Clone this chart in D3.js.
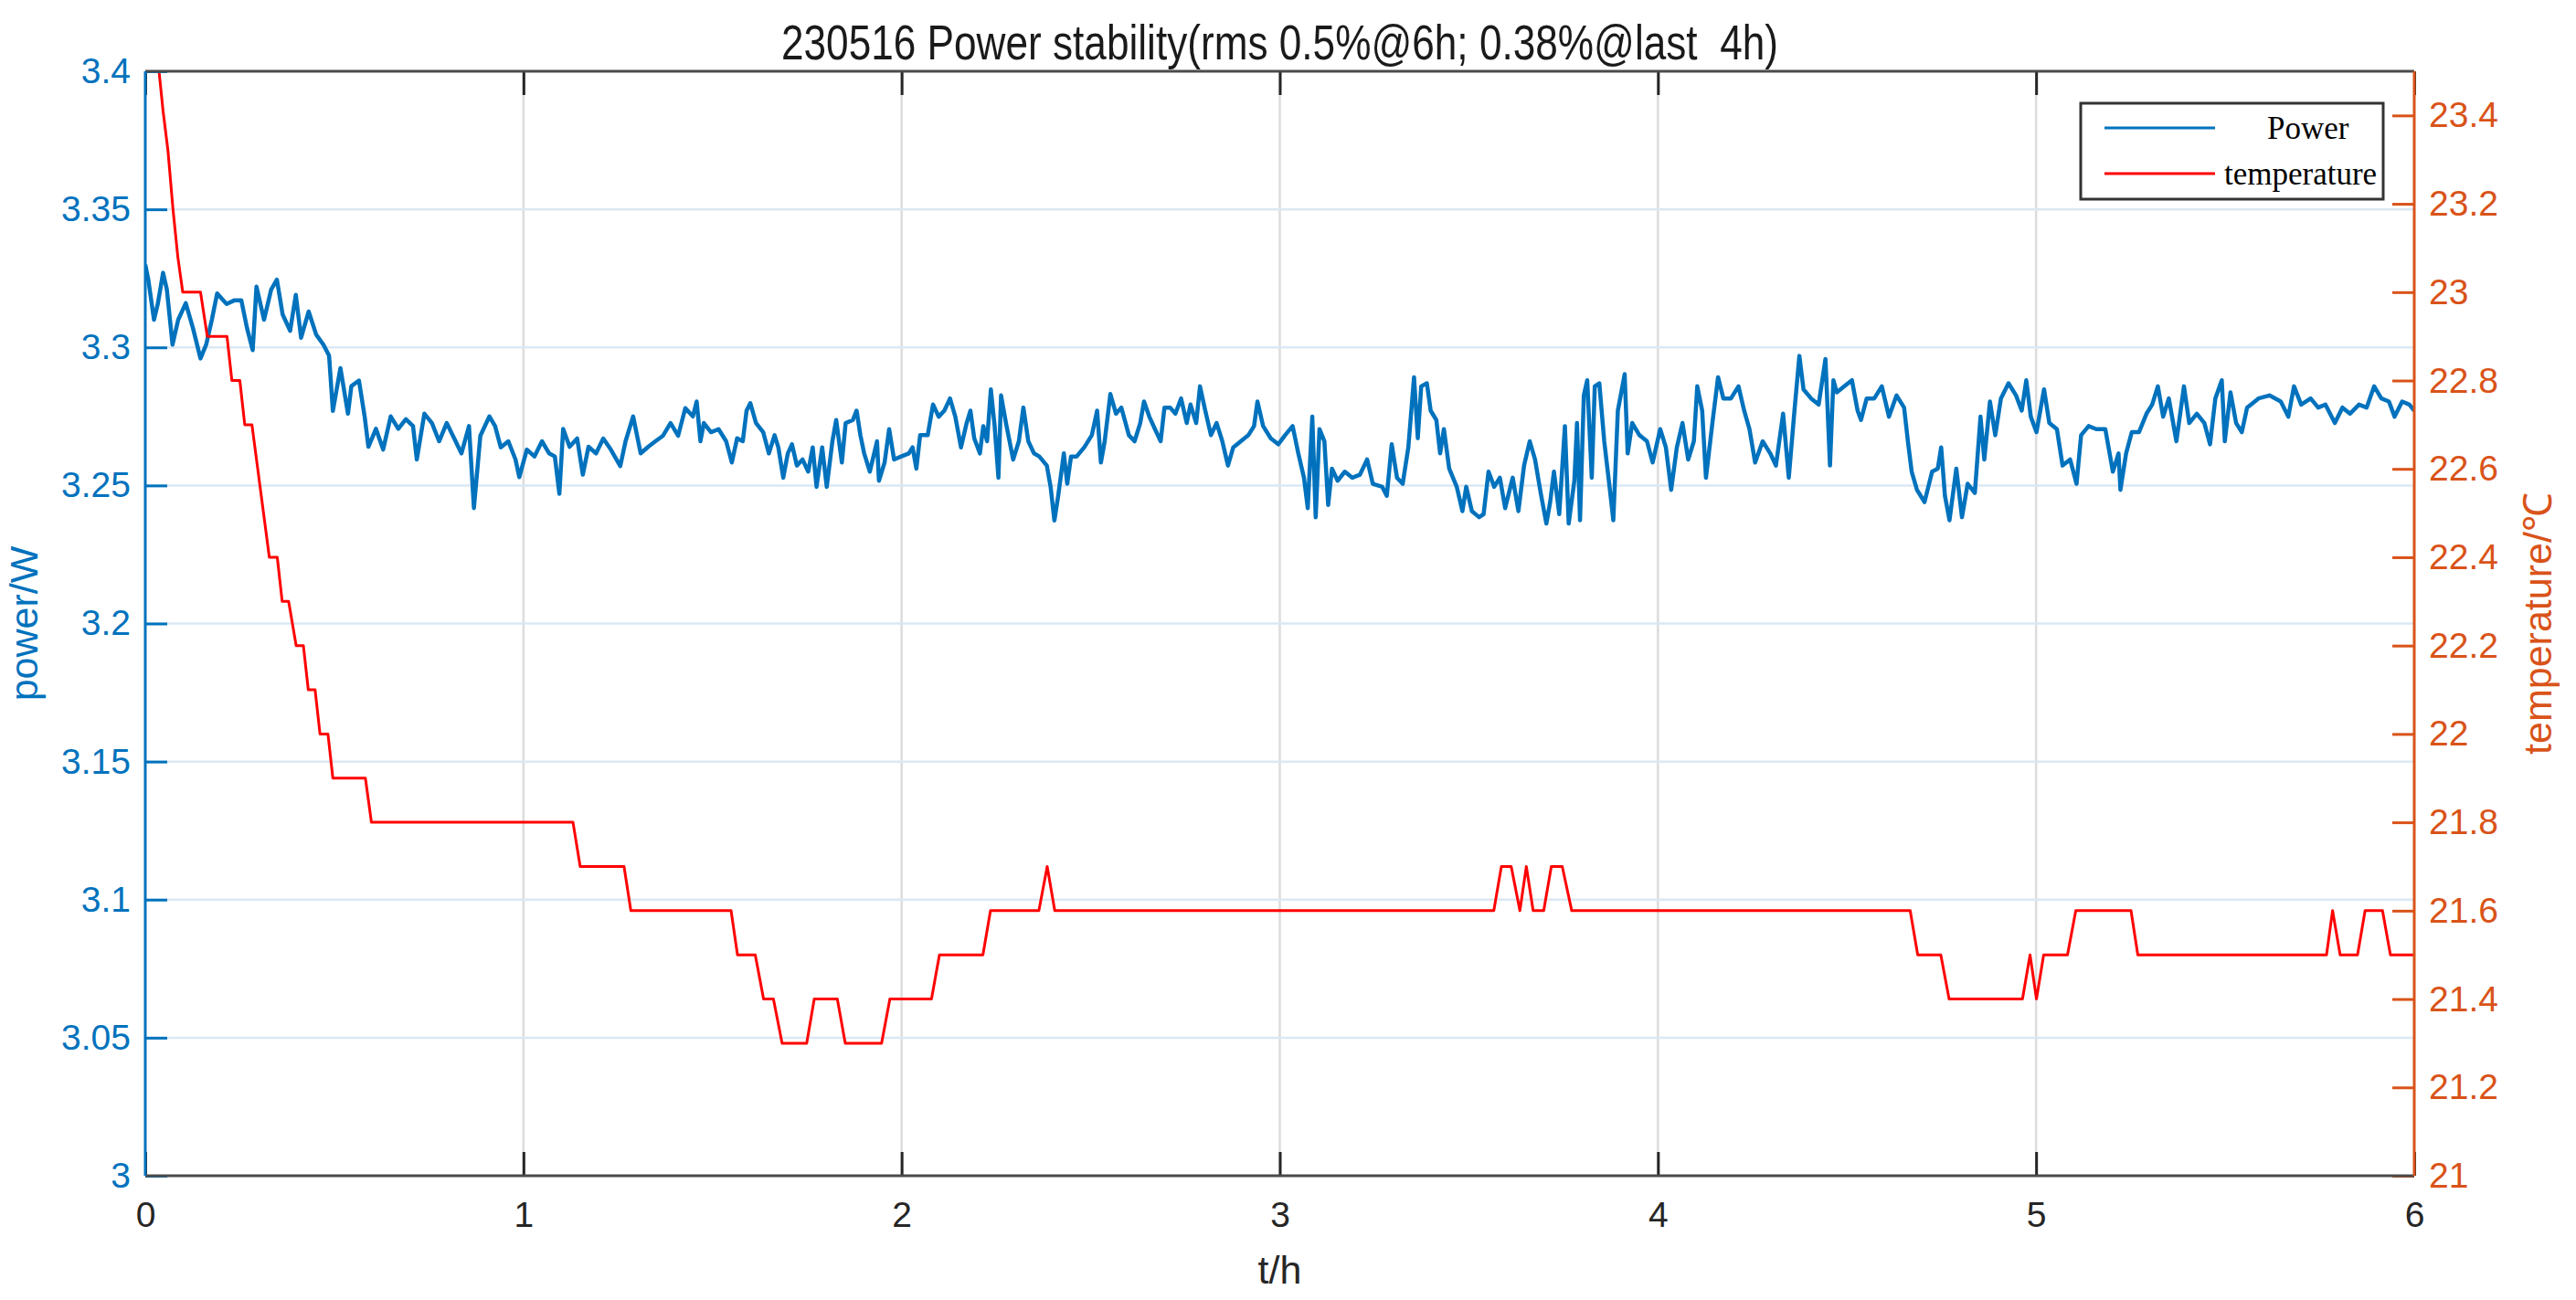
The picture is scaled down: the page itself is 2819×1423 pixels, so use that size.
<!DOCTYPE html>
<html>
<head>
<meta charset="utf-8">
<script src="https://cdn.jsdelivr.net/npm/d3@7"></script>
<style>
    html, body { margin: 0; padding: 0; background: #fff; }
    svg { display: block; }
</style>
</head>
<body>
<svg id="chart" width="2819" height="1423"></svg>
<script>

const title = '230516 Power stability(rms 0.5%@6h; 0.38%@last  4h)';

const hourTicks = [0, 1, 2, 3, 4, 5, 6];
const powerTicks = [3, 3.05, 3.1, 3.15, 3.2, 3.25, 3.3, 3.35, 3.4];
const tempTicks = [21, 21.2, 21.4, 21.6, 21.8, 22, 22.2, 22.4, 22.6, 22.8, 23, 23.2, 23.4];

const seriesNames = ['Power', 'temperature'];

// [hour, W]
const power = [
    [0, 3.330], [0.008, 3.3245], [0.023, 3.310], [0.033, 3.3157], [0.047, 3.327], [0.057, 3.321],
    [0.072, 3.301], [0.087, 3.310], [0.107, 3.316], [0.126, 3.307], [0.146, 3.296], [0.161, 3.301],
    [0.176, 3.310], [0.190, 3.3195], [0.215, 3.3157], [0.235, 3.317], [0.254, 3.317], [0.269, 3.307],
    [0.284, 3.299], [0.294, 3.322], [0.314, 3.310], [0.333, 3.321], [0.348, 3.3245], [0.363, 3.312],
    [0.383, 3.306], [0.398, 3.319], [0.412, 3.3035], [0.432, 3.313], [0.452, 3.3046], [0.471, 3.301],
    [0.486, 3.297], [0.496, 3.277], [0.516, 3.2925], [0.536, 3.276], [0.545, 3.286], [0.565, 3.288],
    [0.580, 3.275], [0.590, 3.264], [0.610, 3.2705], [0.629, 3.263], [0.649, 3.275], [0.669, 3.2705],
    [0.689, 3.274], [0.708, 3.2715], [0.718, 3.2594], [0.738, 3.276], [0.758, 3.2726], [0.777, 3.266],
    [0.797, 3.2726], [0.817, 3.267], [0.836, 3.2616], [0.856, 3.2715], [0.869, 3.2418], [0.886, 3.268],
    [0.910, 3.275], [0.925, 3.2715], [0.940, 3.2638], [0.960, 3.266], [0.979, 3.2594], [0.989, 3.253],
    [1.009, 3.263], [1.029, 3.2605], [1.049, 3.266], [1.068, 3.2616], [1.083, 3.2605], [1.095, 3.247],
    [1.105, 3.2705], [1.122, 3.264], [1.142, 3.267], [1.157, 3.2539], [1.172, 3.264], [1.192, 3.2616],
    [1.211, 3.267], [1.231, 3.263], [1.256, 3.257], [1.270, 3.266], [1.290, 3.275], [1.310, 3.2616],
    [1.330, 3.264], [1.349, 3.266], [1.369, 3.268], [1.389, 3.2726], [1.409, 3.268], [1.428, 3.278],
    [1.448, 3.275], [1.458, 3.2804], [1.468, 3.266], [1.477, 3.2726], [1.496, 3.2693], [1.516, 3.2704],
    [1.536, 3.266], [1.551, 3.2583], [1.565, 3.2671], [1.580, 3.266], [1.590, 3.2771], [1.600, 3.2798],
    [1.615, 3.2726], [1.634, 3.2693], [1.649, 3.2616], [1.664, 3.2682], [1.674, 3.2638], [1.687, 3.2528],
    [1.699, 3.2616], [1.710, 3.2649], [1.723, 3.2572], [1.738, 3.2594], [1.753, 3.255], [1.765, 3.2638],
    [1.775, 3.2495], [1.790, 3.2638], [1.802, 3.2495], [1.817, 3.266], [1.827, 3.2737], [1.842, 3.2583],
    [1.852, 3.2726], [1.871, 3.2737], [1.881, 3.2771], [1.891, 3.2682], [1.901, 3.2616], [1.916, 3.255],
    [1.935, 3.266], [1.940, 3.2517], [1.955, 3.2583], [1.967, 3.2704], [1.980, 3.2594], [1.999, 3.2605],
    [2.019, 3.2616], [2.029, 3.2638], [2.039, 3.2561], [2.049, 3.2682], [2.069, 3.2682], [2.083, 3.2793],
    [2.098, 3.2749], [2.113, 3.2771], [2.128, 3.2815], [2.142, 3.2749], [2.157, 3.2638], [2.172, 3.2726],
    [2.182, 3.2771], [2.192, 3.2671], [2.207, 3.2616], [2.216, 3.2715], [2.226, 3.266], [2.236, 3.2848],
    [2.246, 3.2715], [2.256, 3.2528], [2.263, 3.2826], [2.276, 3.2726], [2.295, 3.2594], [2.310, 3.266],
    [2.322, 3.2782], [2.335, 3.266], [2.350, 3.2616], [2.364, 3.2605], [2.384, 3.2572], [2.394, 3.2495],
    [2.404, 3.2373], [2.414, 3.2462], [2.429, 3.2616], [2.438, 3.2506], [2.448, 3.2605], [2.463, 3.2605],
    [2.483, 3.2638], [2.503, 3.2682], [2.517, 3.2771], [2.527, 3.2583], [2.537, 3.266], [2.552, 3.2831],
    [2.567, 3.276], [2.581, 3.2782], [2.601, 3.2682], [2.616, 3.266], [2.631, 3.2726], [2.641, 3.2804],
    [2.655, 3.2749], [2.670, 3.2704], [2.685, 3.266], [2.695, 3.2782], [2.710, 3.2782], [2.724, 3.276],
    [2.739, 3.2815], [2.754, 3.2726], [2.764, 3.2793], [2.779, 3.2726], [2.789, 3.2859], [2.803, 3.2771],
    [2.818, 3.2682], [2.833, 3.2726], [2.848, 3.266], [2.863, 3.2572], [2.877, 3.2638], [2.897, 3.266],
    [2.917, 3.2682], [2.932, 3.2715], [2.941, 3.2804], [2.956, 3.2715], [2.976, 3.2671], [2.996, 3.2649],
    [3.014, 3.2682], [3.034, 3.2715], [3.049, 3.2616], [3.064, 3.2528], [3.074, 3.2418], [3.086, 3.2749],
    [3.095, 3.2385], [3.105, 3.2704], [3.118, 3.266], [3.128, 3.2429], [3.138, 3.2561], [3.153, 3.2517],
    [3.172, 3.255], [3.192, 3.2528], [3.212, 3.2539], [3.231, 3.2594], [3.246, 3.2506], [3.271, 3.2495],
    [3.283, 3.2462], [3.296, 3.2649], [3.310, 3.2528], [3.325, 3.2506], [3.340, 3.2638], [3.355, 3.2892],
    [3.365, 3.2671], [3.374, 3.2859], [3.389, 3.287], [3.399, 3.2771], [3.414, 3.2737], [3.424, 3.2616],
    [3.434, 3.2704], [3.448, 3.2561], [3.468, 3.2495], [3.483, 3.2407], [3.493, 3.2495], [3.508, 3.2407],
    [3.527, 3.2385], [3.539, 3.2396], [3.552, 3.255], [3.567, 3.2495], [3.582, 3.2528], [3.596, 3.2418],
    [3.616, 3.2528], [3.631, 3.2407], [3.646, 3.2572], [3.661, 3.266], [3.675, 3.2594], [3.690, 3.2473],
    [3.705, 3.2362], [3.715, 3.244], [3.725, 3.255], [3.739, 3.2396], [3.754, 3.2715], [3.764, 3.2362],
    [3.779, 3.2517], [3.786, 3.2726], [3.794, 3.2374], [3.804, 3.2826], [3.813, 3.2881], [3.825, 3.2528],
    [3.833, 3.2859], [3.845, 3.287], [3.858, 3.266], [3.873, 3.2484], [3.882, 3.2374], [3.894, 3.2771],
    [3.912, 3.2903], [3.920, 3.2616], [3.932, 3.2726], [3.951, 3.2682], [3.971, 3.266], [3.986, 3.2583],
    [4.006, 3.2704], [4.021, 3.2638], [4.035, 3.2484], [4.050, 3.2638], [4.065, 3.2726], [4.080, 3.2594],
    [4.095, 3.266], [4.104, 3.2859], [4.117, 3.2771], [4.127, 3.2528], [4.144, 3.2726], [4.159, 3.2892],
    [4.173, 3.2815], [4.193, 3.2815], [4.213, 3.2859], [4.228, 3.2771], [4.242, 3.2704], [4.257, 3.2583],
    [4.277, 3.266], [4.297, 3.2616], [4.312, 3.2572], [4.331, 3.276], [4.346, 3.2528], [4.361, 3.2771],
    [4.374, 3.2969], [4.385, 3.2848], [4.405, 3.2815], [4.425, 3.2793], [4.443, 3.2958], [4.455, 3.2572],
    [4.464, 3.2881], [4.473, 3.2837], [4.493, 3.2859], [4.513, 3.2881], [4.528, 3.2771], [4.537, 3.2737],
    [4.552, 3.2815], [4.572, 3.2815], [4.592, 3.2859], [4.611, 3.2749], [4.631, 3.2826], [4.651, 3.2782],
    [4.661, 3.266], [4.671, 3.255], [4.685, 3.2484], [4.705, 3.244], [4.725, 3.255], [4.740, 3.2561],
    [4.749, 3.2638], [4.759, 3.2462], [4.771, 3.2374], [4.789, 3.2561], [4.804, 3.2385], [4.819, 3.2506],
    [4.838, 3.2473], [4.853, 3.2749], [4.863, 3.2594], [4.878, 3.2804], [4.892, 3.2682], [4.907, 3.2815],
    [4.927, 3.287], [4.947, 3.2826], [4.962, 3.2771], [4.974, 3.2881], [4.986, 3.2749], [5.001, 3.2693],
    [5.021, 3.2848], [5.035, 3.2726], [5.055, 3.2704], [5.070, 3.2572], [5.090, 3.2594], [5.107, 3.2506],
    [5.119, 3.2682], [5.139, 3.2715], [5.159, 3.2704], [5.183, 3.2704], [5.203, 3.255], [5.218, 3.2616],
    [5.223, 3.2484], [5.238, 3.2616], [5.253, 3.2693], [5.272, 3.2693], [5.292, 3.276], [5.307, 3.2793],
    [5.322, 3.2859], [5.336, 3.2749], [5.351, 3.2815], [5.371, 3.266], [5.391, 3.2859], [5.405, 3.2726],
    [5.425, 3.276], [5.445, 3.2726], [5.460, 3.2649], [5.474, 3.2815], [5.491, 3.2881], [5.499, 3.266],
    [5.514, 3.2837], [5.529, 3.2726], [5.544, 3.2693], [5.558, 3.2782], [5.588, 3.2815], [5.617, 3.2826],
    [5.647, 3.2804], [5.667, 3.2749], [5.682, 3.2859], [5.701, 3.2793], [5.726, 3.2815], [5.746, 3.2782],
    [5.765, 3.2793], [5.790, 3.2726], [5.810, 3.2782], [5.830, 3.276], [5.854, 3.2793], [5.874, 3.2782],
    [5.894, 3.2859], [5.913, 3.2815], [5.933, 3.2804], [5.948, 3.2749], [5.968, 3.2804], [5.987, 3.2793],
    [6.0, 3.2771]
];

// [hour, degC]
const temperature = [
    [0, 23.80], [0.034, 23.52], [0.047, 23.41], [0.060, 23.32], [0.073, 23.19], [0.086, 23.08],
    [0.099, 23.0], [0.146, 23.0], [0.164, 22.9], [0.216, 22.9], [0.229, 22.8], [0.250, 22.8],
    [0.263, 22.7], [0.282, 22.7], [0.328, 22.4], [0.349, 22.4], [0.362, 22.3], [0.379, 22.3],
    [0.399, 22.2], [0.418, 22.2], [0.431, 22.1], [0.449, 22.1], [0.462, 22.0], [0.483, 22.0],
    [0.496, 21.9], [0.582, 21.9], [0.598, 21.8], [1.131, 21.8], [1.150, 21.7], [1.266, 21.7],
    [1.284, 21.6], [1.549, 21.6], [1.566, 21.5], [1.613, 21.5], [1.635, 21.4], [1.661, 21.4],
    [1.684, 21.3], [1.749, 21.3], [1.769, 21.4], [1.830, 21.4], [1.851, 21.3], [1.947, 21.3],
    [1.969, 21.4], [2.079, 21.4], [2.100, 21.5], [2.215, 21.5], [2.235, 21.6], [2.363, 21.6],
    [2.385, 21.7], [2.405, 21.6], [3.566, 21.6], [3.586, 21.7], [3.612, 21.7], [3.635, 21.6],
    [3.652, 21.7], [3.670, 21.6], [3.698, 21.6], [3.718, 21.7], [3.747, 21.7], [3.772, 21.6],
    [4.667, 21.6], [4.687, 21.5], [4.748, 21.5], [4.770, 21.4], [4.964, 21.4], [4.984, 21.5],
    [5.001, 21.4], [5.020, 21.5], [5.083, 21.5], [5.105, 21.6], [5.251, 21.6], [5.269, 21.5],
    [5.768, 21.5], [5.784, 21.6], [5.804, 21.5], [5.850, 21.5], [5.870, 21.6], [5.916, 21.6],
    [5.937, 21.5], [6.0, 21.5]
];

const colors = {
    power: '#0072bd',
    temp: '#ff0000',
    rightAxis: '#d95319',
    text: '#262626',
    hGrid: '#dbe8f4',
    vGrid: '#dcdcdc',
    box: '#4a4a4a'
};

const plot = { left: 159, right: 2642, top: 78, bottom: 1287 };
const sans = '"Liberation Sans", Arial, Helvetica, sans-serif';
const serif = '"Liberation Serif", "Times New Roman", serif';

const svg = d3.select('#chart');

const x = d3.scaleLinear().domain([0, 6]).range([plot.left, plot.right]);
const yPower = d3.scaleLinear().domain([3, 3.4]).range([plot.bottom, plot.top]);
const yTemp = d3.scaleLinear().domain([21, 23.5]).range([plot.bottom, plot.top]);

svg.append('defs')
    .append('clipPath')
    .attr('id', 'plot-clip')
    .append('rect')
    .attr('x', plot.left)
    .attr('y', plot.top)
    .attr('width', plot.right - plot.left)
    .attr('height', plot.bottom - plot.top);

// grid
const grid = svg.append('g');

grid.selectAll('line.v')
    .data(hourTicks.slice(1, -1))
    .join('line')
    .attr('class', 'v')
    .attr('x1', d => x(d)).attr('x2', d => x(d))
    .attr('y1', plot.top).attr('y2', plot.bottom)
    .attr('stroke', colors.vGrid)
    .attr('stroke-width', 2.5);

grid.selectAll('line.h')
    .data(powerTicks.slice(1, -1))
    .join('line')
    .attr('class', 'h')
    .attr('x1', plot.left).attr('x2', plot.right)
    .attr('y1', d => yPower(d)).attr('y2', d => yPower(d))
    .attr('stroke', colors.hGrid)
    .attr('stroke-width', 2.5);

// lines
const lines = svg.append('g').attr('clip-path', 'url(#plot-clip)');

lines.append('path')
    .datum(power)
    .attr('d', d3.line().x(d => x(d[0])).y(d => yPower(d[1])))
    .attr('fill', 'none')
    .attr('stroke', colors.power)
    .attr('stroke-width', 4.5)
    .attr('stroke-linejoin', 'round');

lines.append('path')
    .datum(temperature)
    .attr('d', d3.line().x(d => x(d[0])).y(d => yTemp(d[1])))
    .attr('fill', 'none')
    .attr('stroke', colors.temp)
    .attr('stroke-width', 3)
    .attr('stroke-linejoin', 'round');

// axes
function styleAxis (g, color, size) {
    g.select('.domain').remove();
    g.selectAll('.tick line').attr('stroke', color).attr('stroke-width', 3);
    g.selectAll('.tick text')
        .attr('fill', color)
        .attr('font-family', sans)
        .attr('font-size', size);
}

const fmt = d => String(d);

svg.append('g')
    .attr('transform', `translate(0, ${plot.bottom})`)
    .call(d3.axisBottom(x).tickValues(hourTicks).tickFormat(fmt).tickSizeInner(-26).tickSizeOuter(0).tickPadding(28))
    .call(g => styleAxis(g, colors.text, 39));

svg.append('g')
    .attr('transform', `translate(0, ${plot.top})`)
    .call(d3.axisTop(x).tickValues(hourTicks).tickFormat('').tickSizeInner(-26).tickSizeOuter(0))
    .call(g => styleAxis(g, colors.text, 39));

svg.append('g')
    .attr('transform', `translate(${plot.left}, 0)`)
    .call(d3.axisLeft(yPower).tickValues(powerTicks).tickFormat(fmt).tickSizeInner(-24).tickSizeOuter(0).tickPadding(16))
    .call(g => styleAxis(g, colors.power, 39));

svg.append('g')
    .attr('transform', `translate(${plot.right}, 0)`)
    .call(d3.axisRight(yTemp).tickValues(tempTicks).tickFormat(fmt).tickSizeInner(-24).tickSizeOuter(0).tickPadding(16))
    .call(g => styleAxis(g, colors.rightAxis, 39));

// frame
const frame = svg.append('g').attr('fill', 'none').attr('stroke-width', 3);

frame.append('line')
    .attr('x1', plot.left).attr('x2', plot.right)
    .attr('y1', plot.top).attr('y2', plot.top)
    .attr('stroke', colors.box);

frame.append('line')
    .attr('x1', plot.left).attr('x2', plot.right)
    .attr('y1', plot.bottom).attr('y2', plot.bottom)
    .attr('stroke', colors.box);

frame.append('line')
    .attr('x1', plot.left).attr('x2', plot.left)
    .attr('y1', plot.top).attr('y2', plot.bottom)
    .attr('stroke', colors.power);

frame.append('line')
    .attr('x1', plot.right).attr('x2', plot.right)
    .attr('y1', plot.top).attr('y2', plot.bottom)
    .attr('stroke', colors.rightAxis);

// labels
const midY = (plot.top + plot.bottom) / 2;

svg.append('text')
    .attr('x', (plot.left + plot.right) / 2)
    .attr('y', 65)
    .attr('text-anchor', 'middle')
    .attr('font-family', sans)
    .attr('font-size', 53)
    .attr('fill', '#1a1a1a')
    .attr('textLength', 1091)
    .attr('lengthAdjust', 'spacingAndGlyphs')
    .style('white-space', 'pre')
    .text(title);

svg.append('text')
    .attr('x', (plot.left + plot.right) / 2)
    .attr('y', 1405)
    .attr('text-anchor', 'middle')
    .attr('font-family', sans)
    .attr('font-size', 43)
    .attr('fill', colors.text)
    .text('t/h');

svg.append('text')
    .attr('transform', `translate(41, ${midY}) rotate(-90)`)
    .attr('text-anchor', 'middle')
    .attr('font-family', sans)
    .attr('font-size', 43)
    .attr('fill', colors.power)
    .text('power/W');

svg.append('text')
    .attr('transform', `translate(2792, ${midY}) rotate(-90)`)
    .attr('text-anchor', 'middle')
    .attr('font-family', sans)
    .attr('font-size', 43)
    .attr('fill', colors.rightAxis)
    .text('temperature/℃');

// legend
const legend = svg.append('g');

legend.append('rect')
    .attr('x', 2277).attr('y', 113)
    .attr('width', 331).attr('height', 105)
    .attr('fill', '#fff')
    .attr('stroke', '#333')
    .attr('stroke-width', 3);

const legendRows = [
    { name: seriesNames[0], color: colors.power, y: 140, textX: 2481 },
    { name: seriesNames[1], color: colors.temp, y: 190, textX: 2434 }
];

legendRows.forEach(row => {
    legend.append('line')
        .attr('x1', 2303).attr('x2', 2424)
        .attr('y1', row.y).attr('y2', row.y)
        .attr('stroke', row.color)
        .attr('stroke-width', 3);

    legend.append('text')
        .attr('x', row.textX)
        .attr('y', row.y + 12)
        .attr('font-family', serif)
        .attr('font-size', 35)
        .attr('fill', '#000')
        .text(row.name);
});

</script>
</body>
</html>
